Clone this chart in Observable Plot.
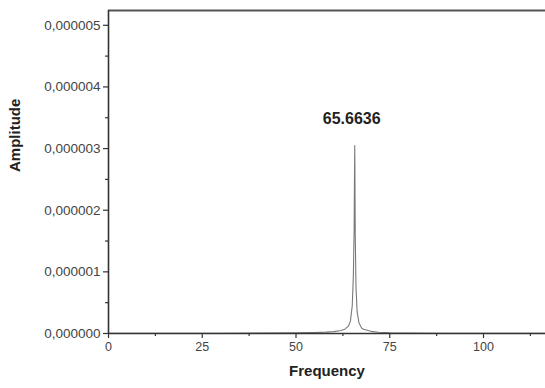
<!DOCTYPE html>
<html>
<head>
<meta charset="utf-8">
<script src="https://cdn.jsdelivr.net/npm/d3@7"></script>
<script src="https://cdn.jsdelivr.net/npm/@observablehq/plot@0.6"></script>
<style>
  html, body { margin: 0; padding: 0; background: #fff; }
  #chart svg { display: block; }
</style>
</head>
<body>
<div id="chart"></div>
<script>
// Amplitude spectrum samples (frequency, amplitude)
const frequency = [0, 10, 20, 30, 40, 50, 55, 58, 60, 62, 63, 64, 64.5, 65, 65.3, 65.5, 65.6, 65.6636, 65.72, 65.8, 66, 66.3, 66.8, 67.5, 68, 70, 72, 75, 80, 90, 100, 110, 116.5];
const amplitude = [0.002e-6, 0.003e-6, 0.004e-6, 0.005e-6, 0.007e-6, 0.01e-6, 0.015e-6, 0.022e-6, 0.03e-6, 0.05e-6, 0.07e-6, 0.12e-6, 0.2e-6, 0.45e-6, 0.95e-6, 1.7e-6, 2.6e-6, 3.05e-6, 2.5e-6, 1.6e-6, 0.75e-6, 0.35e-6, 0.17e-6, 0.09e-6, 0.07e-6, 0.035e-6, 0.02e-6, 0.012e-6, 0.007e-6, 0.004e-6, 0.003e-6, 0.002e-6, 0.002e-6];

// Peak annotation
const peakFrequency = [65.6636];
const peakAmplitude = [3.05e-6];
const peakLabel = ["65.6636"];

// Axis ticks
const xTicks = [0, 25, 50, 75, 100];
const xMinorTicks = [12.5, 37.5, 62.5, 87.5, 112.5];
const yTicks = [0, 1e-6, 2e-6, 3e-6, 4e-6, 5e-6];
const yMinorTicks = [0.5e-6, 1.5e-6, 2.5e-6, 3.5e-6, 4.5e-6];

const xDomain = [0, 116.53];
const yDomain = [0, 5.24e-6];

const spectrum = frequency.map((f, i) => ({f, a: amplitude[i]}));
const peaks = peakFrequency.map((f, i) => ({f, a: peakAmplitude[i], label: peakLabel[i]}));

const fmtY = d => d3.format(".6f")(d).replace(".", ",");
const axisColor = "#333";

const chart = Plot.plot({
  width: 545,
  height: 388,
  marginLeft: 108,
  marginRight: 0,
  marginTop: 10,
  marginBottom: 55,
  style: {fontFamily: "'Liberation Sans', Arial, sans-serif", fontSize: "12.5px", background: "#fff", color: "#444"},
  x: {domain: xDomain, type: "linear"},
  y: {domain: yDomain, type: "linear"},
  marks: [
    Plot.axisX({ticks: xTicks, tickSize: 5, tickPadding: 4, tickFormat: d => String(d), fontSize: 12.5, stroke: axisColor, strokeWidth: 1.2, label: null}),
    Plot.axisX({ticks: xMinorTicks, tickSize: 3, tickFormat: () => "", stroke: axisColor, strokeWidth: 1.2, label: null}),
    Plot.axisY({ticks: yTicks, tickSize: 5, tickPadding: 3, tickFormat: fmtY, fontSize: 13.5, stroke: axisColor, strokeWidth: 1.2, label: null}),
    Plot.axisY({ticks: yMinorTicks, tickSize: 3, tickFormat: () => "", stroke: axisColor, strokeWidth: 1.2, label: null}),
    Plot.line(spectrum, {x: "f", y: "a", stroke: "#7a7a7a", strokeWidth: 1.1}),
    Plot.ruleY([0], {stroke: axisColor, strokeWidth: 1.6}),
    Plot.ruleY([yDomain[1]], {stroke: "#555", strokeWidth: 2}),
    Plot.ruleX([0], {stroke: axisColor, strokeWidth: 1.6}),
    Plot.text(peaks, {x: "f", y: "a", text: "label", dy: -27, dx: -3, fontSize: 16, fontWeight: "bold", fill: "#222"}),
    Plot.text(["Amplitude"], {frameAnchor: "left", dx: -93, rotate: -90, fontSize: 15, fontWeight: "bold", fill: "#222"}),
    Plot.text(["Frequency"], {frameAnchor: "bottom", dy: 42, fontSize: 15, fontWeight: "bold", fill: "#222"})
  ]
});

document.getElementById("chart").appendChild(chart);
</script>
</body>
</html>
